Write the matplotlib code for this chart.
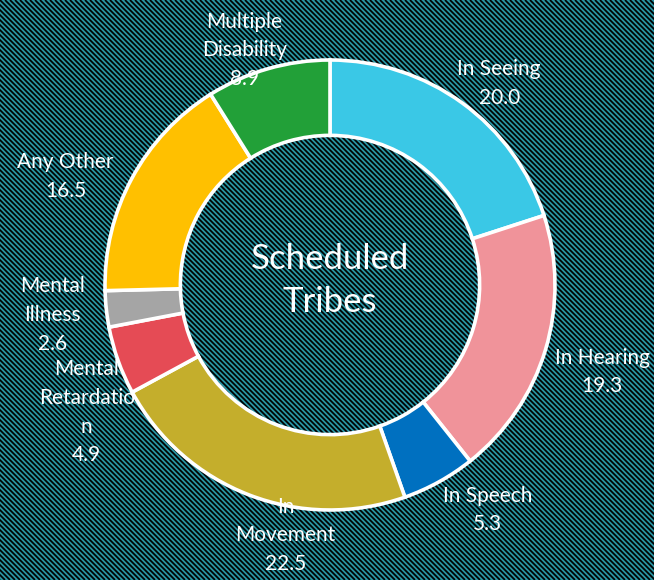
import numpy as np
import matplotlib
matplotlib.use("Agg")
import matplotlib.pyplot as plt
from matplotlib.collections import LineCollection
from matplotlib.transforms import IdentityTransform

categories = ["In Seeing", "In Hearing", "In Speech", "In\nMovement",
              "Mental\nRetardatio\nn", "Mental\nIllness", "Any Other",
              "Multiple\nDisability"]
values = [20.0, 19.3, 5.3, 22.5, 4.9, 2.6, 16.5, 8.9]
colors = ["#3AC8E6", "#F0939A", "#0070C0", "#C4AE2C",
          "#E54B55", "#A5A5A5", "#FFC000", "#22A038"]
center_title = "Scheduled\nTribes"

# label placement: (radius, angle nudge in degrees) per wedge
label_layout = [(1.17, -4), (1.27, -1), (1.22, 6), (1.13, 11),
                (1.22, 8), (1.24, 0), (1.27, 6), (1.11, 4)]

plt.rcParams["font.family"] = ["Lato", "DejaVu Sans"]

W, H = 654, 580
fig = plt.figure(figsize=(W / 100, H / 100), dpi=100)
fig.patch.set_facecolor("#2995A3")

# diagonal stripe background, drawn in figure pixel space
step = 5.0
offs = np.arange(-H, W + H, step)
segs = [[(o, H), (o + H, 0)] for o in offs]
stripes = LineCollection(segs, colors="black", linewidths=1.25, zorder=-1)
stripes.set_transform(IdentityTransform())
fig.add_artist(stripes)

ax = fig.add_axes([0, 0, 1, 1])
ax.pie(values, colors=colors, startangle=90, counterclock=False,
       radius=1.0, wedgeprops=dict(width=0.335, edgecolor="white",
                                   linewidth=2.6))
ax.set_xlim(-330 / 225, 324 / 225)
ax.set_ylim(-295 / 225, 285 / 225)
ax.set_aspect("equal")
ax.axis("off")

total = sum(values)
start = 90.0
for v, name, (r, nudge) in zip(values, categories, label_layout):
    mid = start - v / total * 360 / 2
    start -= v / total * 360
    a = np.deg2rad(mid + nudge)
    ax.text(r * np.cos(a), r * np.sin(a), f"{name}\n{v:.1f}", color="white",
            ha="center", va="center", fontsize=15, linespacing=1.55)

ax.text(0, 0.02, center_title, color="white", ha="center", va="center",
        fontsize=25, linespacing=1.45)

fig.savefig("out.png", dpi=100, facecolor=fig.get_facecolor())
